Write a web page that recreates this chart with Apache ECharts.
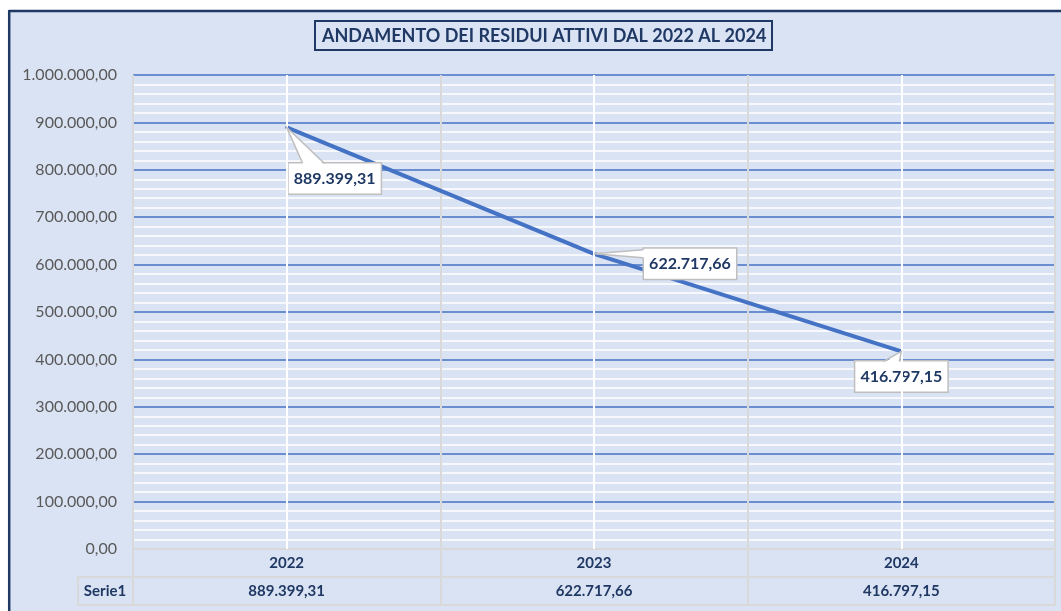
<!DOCTYPE html>
<html>
<head>
<meta charset="utf-8">
<script src="https://cdn.jsdelivr.net/npm/echarts@6/dist/echarts.min.js"></script>
<style>
  html, body { margin: 0; padding: 0; background: #fff; }
  #main { width: 1061px; height: 611px; }
</style>
</head>
<body>
<div id="main"></div>
<script>
// dati del grafico
var titleText = 'ANDAMENTO DEI RESIDUI ATTIVI DAL 2022 AL 2024';
var seriesName = 'Serie1';
var categories = ['2022', '2023', '2024'];
var values = [889399.31, 622717.66, 416797.15];
var yMin = 0, yMax = 1000000, yStep = 100000;

// posizione dei riquadri etichetta rispetto al punto (px, centro del riquadro)
var labelShift = [[48, 51], [96, 10], [0, 25]];
// base del "fumetto": lato del riquadro e tratto [da, a] in px dal suo inizio
var calloutBase = [['top', 15, 37], ['left', 1, 9], ['top', 29, 45]];
var BOX_W = 94, BOX_H = 30;

var NAVY = '#1F3864';
var BLUE = '#4472C4';
var GREY = '#D9D9D9';
var EDGE = '#BFBFBF';
var FONT = 'Lato';

// formato italiano 1.234.567,89
function fmtIt(v) {
    var parts = Number(v).toFixed(2).split('.');
    var int = parts[0].replace(/\B(?=(\d{3})+(?!\d))/g, '.');
    return int + ',' + parts[1];
}

var chart = echarts.init(document.getElementById('main'));

var staticGraphic = [
    // margini bianchi e cornice
    { type: 'rect', shape: { x: 0, y: 0, width: 1061, height: 10 }, style: { fill: '#fff' }, silent: true },
    { type: 'rect', shape: { x: 0, y: 0, width: 8, height: 611 }, style: { fill: '#fff' }, silent: true },
    { type: 'line', shape: { x1: 9, y1: 11, x2: 1061, y2: 11 }, style: { stroke: NAVY, lineWidth: 2.5 }, silent: true },
    { type: 'line', shape: { x1: 9.2, y1: 10, x2: 9.2, y2: 611 }, style: { stroke: NAVY, lineWidth: 2.5 }, silent: true },
    // tabella dati
    { type: 'line', shape: { x1: 78, y1: 577, x2: 1055, y2: 577 }, style: { stroke: GREY, lineWidth: 2 }, silent: true },
    { type: 'line', shape: { x1: 78, y1: 605, x2: 1055, y2: 605 }, style: { stroke: GREY, lineWidth: 2 }, silent: true },
    { type: 'line', shape: { x1: 78, y1: 576, x2: 78, y2: 606 }, style: { stroke: GREY, lineWidth: 2 }, silent: true },
    {
        type: 'text', x: 105, y: 591, silent: true,
        style: {
            text: seriesName, align: 'center', verticalAlign: 'middle',
            fontFamily: FONT, fontSize: 15, fontWeight: 'bold', fill: NAVY
        }
    }
];

var option = {
    backgroundColor: '#DAE3F3',
    animation: false,
    title: {
        text: titleText,
        left: 315,
        top: 21,
        padding: [6, 6, 5, 7],
        borderColor: NAVY,
        borderWidth: 2,
        textStyle: { fontFamily: FONT, fontSize: 18, fontWeight: 'bold', color: NAVY }
    },
    grid: { left: 133, right: 6, top: 75, bottom: 62, containLabel: false },
    xAxis: {
        type: 'category',
        data: categories,
        boundaryGap: true,
        axisLine: { show: true, lineStyle: { color: GREY, width: 2 } },
        axisTick: { show: true, length: 56, lineStyle: { color: GREY, width: 2 } },
        splitLine: { show: true, lineStyle: { color: GREY, width: 2 } },
        axisLabel: {
            margin: 0,
            formatter: function (val, idx) {
                return '{y|' + val + '}\n{v|' + fmtIt(values[idx]) + '}';
            },
            rich: {
                y: { fontFamily: FONT, fontSize: 15, fontWeight: 'bold', color: NAVY, lineHeight: 28, height: 28 },
                v: { fontFamily: FONT, fontSize: 15, fontWeight: 'bold', color: NAVY, lineHeight: 28, height: 28 }
            }
        }
    },
    yAxis: {
        type: 'value',
        min: yMin,
        max: yMax,
        interval: yStep,
        axisLine: { show: false },
        axisTick: { show: false },
        axisLabel: {
            margin: 16,
            fontFamily: FONT,
            fontSize: 16,
            color: '#595959',
            formatter: function (v) { return fmtIt(v); }
        },
        splitLine: { show: true, lineStyle: { color: BLUE, width: 1.6 } },
        minorTick: { show: false, splitNumber: 5 },
        minorSplitLine: { show: true, lineStyle: { color: '#FFFFFF', width: 1.5 } }
    },
    series: [
        {
            // linee verticali bianche sui centri delle categorie
            type: 'line',
            z: 1,
            data: [],
            silent: true,
            markLine: {
                silent: true,
                symbol: 'none',
                label: { show: false },
                lineStyle: { color: '#FFFFFF', width: 2, type: 'solid' },
                data: categories.map(function (c) { return { xAxis: c }; })
            }
        },
        {
            name: seriesName,
            type: 'line',
            z: 3,
            data: values,
            symbol: 'circle',
            symbolSize: 3,
            showSymbol: true,
            itemStyle: { color: BLUE },
            lineStyle: { color: BLUE, width: 4 },
            label: {
                show: true,
                position: 'inside',
                formatter: function (p) { return fmtIt(p.value); },
                fontFamily: FONT,
                fontSize: 16,
                fontWeight: 'bold',
                color: NAVY,
                backgroundColor: '#FFFFFF',
                borderColor: EDGE,
                borderWidth: 1.5,
                width: BOX_W - 2,
                height: BOX_H - 11,
                align: 'center',
                padding: [6, 0, 5, 0]
            },
            labelLayout: function (p) {
                var s = labelShift[p.dataIndex];
                return { dx: s[0], dy: s[1] };
            }
        }
    ],
    graphic: staticGraphic
};

chart.setOption(option);

// fumetti: punta sul dato, base sul riquadro dell'etichetta
var callouts = [];
values.forEach(function (v, i) {
    var pt = chart.convertToPixel({ seriesIndex: 1 }, [i, v]);
    var bx = pt[0] + labelShift[i][0] - BOX_W / 2;
    var by = pt[1] + labelShift[i][1] - BOX_H / 2;
    var b = calloutBase[i], p1, p2, q1, q2;
    if (b[0] === 'top') {
        p1 = [bx + b[1], by]; p2 = [bx + b[2], by];
        q1 = [bx + b[1], by + 2]; q2 = [bx + b[2], by + 2];
    } else {
        p1 = [bx, by + b[1]]; p2 = [bx, by + b[2]];
        q1 = [bx + 2, by + b[1]]; q2 = [bx + 2, by + b[2]];
    }
    callouts.push({
        type: 'polygon', z: 100, silent: true,
        shape: { points: [pt, q1, q2] },
        style: { fill: '#FFFFFF', stroke: null }
    });
    callouts.push({
        type: 'polyline', z: 101, silent: true,
        shape: { points: [p1, pt, p2] },
        style: { stroke: EDGE, lineWidth: 1.5, fill: null }
    });
});
chart.setOption({ graphic: staticGraphic.concat(callouts) });
</script>
</body>
</html>
